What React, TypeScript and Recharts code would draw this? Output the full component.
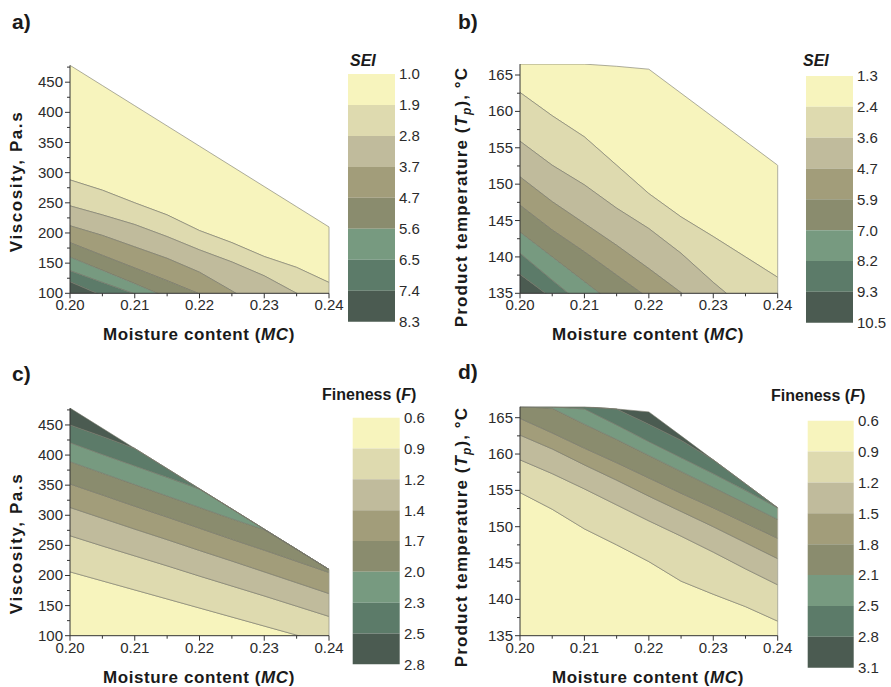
import React from 'react';
import { ComposedChart, Area, XAxis, YAxis, ReferenceLine, BarChart, Bar } from 'recharts';

// ---------- data ----------
const MC = [0.2, 0.205, 0.21, 0.215, 0.22, 0.225, 0.23, 0.235, 0.24];
const MC_TICKS = [0.2, 0.205, 0.21, 0.215, 0.22, 0.225, 0.23, 0.235, 0.24];
const VISC_TICKS = [100, 125, 150, 175, 200, 225, 250, 275, 300, 325, 350, 375, 400, 425, 450, 475];
const TEMP_TICKS = [135, 137.5, 140, 142.5, 145, 147.5, 150, 152.5, 155, 157.5, 160, 162.5, 165];

// upper boundary of the experimental region
const HULL_VISC = [478, 444.5, 411, 377.5, 344, 310.5, 277, 243.5, 210];
const HULL_TEMP = [166.5, 166.5, 166.5, 166.2, 165.8, 162.5, 159.2, 155.9, 152.6];
const FLOOR_VISC = [0, 0, 0, 0, 0, 0, 0, 0, 0];
const FLOOR_TEMP = [100, 100, 100, 100, 100, 100, 100, 100, 100];

// a) SEI contours (viscosity vs MC)
const A_SEI_19 = [288, 271, 250, 230, 204, 184, 161, 143, 118];
const A_SEI_28 = [245, 230, 214, 194, 172, 152, 129, 100, 72];
const A_SEI_37 = [212, 196, 177, 158, 135, 104, 72, 42, 12];
const A_SEI_47 = [184, 163, 142, 121, 99, 78, 57, 36, 10];
const A_SEI_56 = [160, 138, 116, 93, 70, 47, 24, 5, 0];
const A_SEI_65 = [137.5, 118, 99, 80, 61, 42, 23, 4, 0];
const A_SEI_74 = [119, 96, 73, 50, 27, 4, 0, 0, 0];

// b) SEI contours (product temperature vs MC)
const B_SEI_24 = [162.6, 159.4, 156.5, 152.6, 148.7, 145.5, 142.8, 140.0, 137.2];
const B_SEI_36 = [155.9, 152.6, 149.9, 146.7, 143.9, 140.5, 136.5, 132.8, 129];
const B_SEI_47 = [151.0, 147.6, 144.6, 141.6, 138.4, 135.1, 131.6, 128, 124.5];
const B_SEI_59 = [147.1, 143.7, 140.7, 137.5, 134.3, 131, 127.7, 124.4, 121];
const B_SEI_70 = [143.4, 140.0, 136.6, 133.2, 129.8, 126.4, 123, 119.6, 116];
const B_SEI_82 = [140.5, 136.8, 133.2, 129.5, 126, 122.5, 119, 115.5, 112];
const B_SEI_93 = [137.6, 134.3, 131, 127.6, 124.3, 121, 117.6, 114.3, 111];

// c) Fineness contours (viscosity vs MC)
const C_F_09 = [206, 191, 176, 161, 146, 131, 116, 101, 86];
const C_F_12 = [266, 249, 232.5, 216, 199, 182.5, 166, 149, 132];
const C_F_14 = [313, 295, 277, 259.5, 241.5, 224, 206, 188, 170];
const C_F_17 = [352, 333.6, 315, 297, 278.5, 260, 242, 223.5, 205];
const C_F_20 = [389, 370, 351, 332, 313, 294, 276, 257, 238];
const C_F_23 = [420.6, 401, 382, 363, 343.5, 324, 305, 286, 267];
const C_F_25 = [450, 431, 412, 393, 374, 355, 336, 317, 298];

// d) Fineness contours (product temperature vs MC)
const D_F_09 = [154.7, 152.4, 149.7, 147.5, 145.2, 142.5, 140.7, 139.0, 137.0];
const D_F_12 = [159.2, 157.3, 155.2, 153.0, 150.8, 148.7, 146.5, 144.2, 142.0];
const D_F_15 = [162.6, 160.7, 158.5, 156.4, 154.2, 152.1, 150.0, 147.8, 145.6];
const D_F_18 = [164.9, 162.9, 160.8, 158.8, 156.7, 154.6, 152.6, 150.5, 148.4];
const D_F_21 = [168.5, 166.3, 164.1, 162.0, 159.8, 157.6, 155.4, 153.2, 151.0];
const D_F_25 = [171, 168.5, 166.2, 164.0, 161.7, 159.5, 157.3, 155.0, 152.8];
const D_F_28 = [172.9, 170.7, 168.5, 166.3, 164.1, 161.9, 159.7, 157.5, 155.3];

// legend labels
const SEI_A_LABELS = ['1.0', '1.9', '2.8', '3.7', '4.7', '5.6', '6.5', '7.4', '8.3'];
const SEI_B_LABELS = ['1.3', '2.4', '3.6', '4.7', '5.9', '7.0', '8.2', '9.3', '10.5'];
const F_C_LABELS = ['0.6', '0.9', '1.2', '1.4', '1.7', '2.0', '2.3', '2.5', '2.8'];
const F_D_LABELS = ['0.6', '0.9', '1.2', '1.5', '1.8', '2.1', '2.5', '2.8', '3.1'];

const COLORS = ['#f7f4bd', '#dedaaf', '#c0bb9c', '#a29d7a', '#8a8c6e', '#779a80', '#5c7b69', '#4b5b51'];

const FONT = "'Liberation Sans', Arial, Helvetica, sans-serif";
const W = 891;
const H = 687;

// boundaries ordered by level (band k lies between bounds[k] and bounds[k+1])
function buildRows(bounds: number[][], hull: number[]) {
  return MC.map((x, i) => {
    const row: any = { x };
    for (let k = 0; k < 8; k++) {
      const a = Math.min(bounds[k][i], hull[i]);
      const b = Math.min(bounds[k + 1][i], hull[i]);
      row['b' + k] = [Math.min(a, b), Math.max(a, b)];
    }
    return row;
  });
}

const PANELS = [
  {
    key: 'a',
    rows: buildRows([HULL_VISC, A_SEI_19, A_SEI_28, A_SEI_37, A_SEI_47, A_SEI_56, A_SEI_65, A_SEI_74, FLOOR_VISC], HULL_VISC),
    hull: HULL_VISC, domain: [100, 478], ticks: VISC_TICKS, major: 50,
    box: { left: 70, right: 329, top: 65.3, bottom: 293.3 },
    legend: { left: 348, right: 395, top: 74, bottom: 321.7 }, labels: SEI_A_LABELS,
  },
  {
    key: 'b',
    rows: buildRows([HULL_TEMP, B_SEI_24, B_SEI_36, B_SEI_47, B_SEI_59, B_SEI_70, B_SEI_82, B_SEI_93, FLOOR_TEMP], HULL_TEMP),
    hull: HULL_TEMP, domain: [135, 166.5], ticks: TEMP_TICKS, major: 5,
    box: { left: 520, right: 777.7, top: 64.1, bottom: 293.3 },
    legend: { left: 806, right: 853, top: 76, bottom: 322.7 }, labels: SEI_B_LABELS,
  },
  {
    key: 'c',
    rows: buildRows([FLOOR_VISC, C_F_09, C_F_12, C_F_14, C_F_17, C_F_20, C_F_23, C_F_25, HULL_VISC], HULL_VISC),
    hull: HULL_VISC, domain: [100, 478], ticks: VISC_TICKS, major: 50,
    box: { left: 70, right: 329, top: 408.1, bottom: 635.7 },
    legend: { left: 352.7, right: 400, top: 417.7, bottom: 664.3 }, labels: F_C_LABELS,
  },
  {
    key: 'd',
    rows: buildRows([FLOOR_TEMP, D_F_09, D_F_12, D_F_15, D_F_18, D_F_21, D_F_25, D_F_28, HULL_TEMP], HULL_TEMP),
    hull: HULL_TEMP, domain: [135, 166.5], ticks: TEMP_TICKS, major: 5,
    box: { left: 520, right: 777.7, top: 406.8, bottom: 635.7 },
    legend: { left: 807.7, right: 854, top: 420.7, bottom: 667.7 }, labels: F_D_LABELS,
  },
];

const AXIS = '#333333';
const TICK_TEXT = '#2b2b2b';

const XTick = (props: any) => {
  const { x, y, payload } = props;
  const v = payload.value;
  const major = Math.abs(v * 100 - Math.round(v * 100)) < 1e-6;
  return (
    <g>
      <line x1={x} x2={x} y1={y} y2={y + (major ? 5 : 3)} stroke={AXIS} strokeWidth={1} />
      {major && (
        <text x={x} y={y + 17} textAnchor="middle" fontSize={15} fill={TICK_TEXT} fontFamily={FONT}>
          {v.toFixed(2)}
        </text>
      )}
    </g>
  );
};

const makeYTick = (major: number) => (props: any) => {
  const { x, y, payload } = props;
  const v = payload.value;
  const isMajor = Math.abs(v / major - Math.round(v / major)) < 1e-6;
  return (
    <g>
      <line x1={x - (isMajor ? 5 : 3)} x2={x} y1={y} y2={y} stroke={AXIS} strokeWidth={1} />
      {isMajor && (
        <text x={x - 7} y={y + 5} textAnchor="end" fontSize={15} fill={TICK_TEXT} fontFamily={FONT}>
          {String(v)}
        </text>
      )}
    </g>
  );
};

function ContourPanel({ p }: { p: any }) {
  const yW = 50;
  const xH = 30;
  const margin = {
    top: p.box.top,
    left: p.box.left - yW,
    right: W - p.box.right,
    bottom: H - p.box.bottom - xH,
  };
  const last = p.hull.length - 1;
  return (
    <div style={{ position: 'absolute', left: 0, top: 0 }}>
      <ComposedChart width={W} height={H} data={p.rows} margin={margin}>
        <XAxis
          type="number"
          dataKey="x"
          domain={[0.2, 0.24]}
          ticks={MC_TICKS}
          interval={0}
          tickSize={0}
          tickMargin={0}
          tickLine={false}
          tick={XTick}
          axisLine={{ stroke: AXIS, strokeWidth: 1 }}
          height={xH}
          allowDataOverflow
        />
        <YAxis
          type="number"
          domain={p.domain}
          ticks={p.ticks}
          interval={0}
          tickSize={0}
          tickMargin={0}
          tickLine={false}
          tick={makeYTick(p.major)}
          axisLine={{ stroke: AXIS, strokeWidth: 1 }}
          width={yW}
          allowDataOverflow
        />
        {COLORS.map((c, k) => (
          <Area
            key={k}
            dataKey={'b' + k}
            type="linear"
            fill={c}
            fillOpacity={1}
            stroke="#77776a"
            strokeWidth={0.6}
            dot={false}
            activeDot={false}
            isAnimationActive={false}
          />
        ))}
        <ReferenceLine
          segment={[
            { x: MC[last], y: p.domain[0] },
            { x: MC[last], y: p.hull[last] },
          ]}
          stroke="#9a9a88"
          strokeWidth={0.8}
        />
      </ComposedChart>
    </div>
  );
}

function ColorBar({ p }: { p: any }) {
  const yW = 30;
  const row: any = { n: 'bar' };
  COLORS.forEach((_, k) => {
    row['s' + k] = 1;
  });
  const margin = {
    top: p.legend.top,
    left: p.legend.left,
    right: W - p.legend.right - yW,
    bottom: H - p.legend.bottom,
  };
  return (
    <div style={{ position: 'absolute', left: 0, top: 0 }}>
      <BarChart width={W} height={H} data={[row]} margin={margin} barCategoryGap={0} barGap={0}>
        <XAxis dataKey="n" hide />
        <YAxis
          orientation="right"
          type="number"
          domain={[0, 8]}
          ticks={[0, 1, 2, 3, 4, 5, 6, 7, 8]}
          reversed
          interval={0}
          width={yW}
          tickSize={0}
          tickMargin={4}
          axisLine={false}
          tickLine={false}
          tick={{ fontSize: 15, fill: TICK_TEXT, fontFamily: FONT }}
          tickFormatter={(v: number) => p.labels[v]}
        />
        {COLORS.map((c, k) => (
          <Bar key={k} dataKey={'s' + k} stackId="s" fill={c} isAnimationActive={false} />
        ))}
      </BarChart>
    </div>
  );
}

function Overlay() {
  const title = { fontFamily: FONT, fontWeight: 'bold' as const, fill: '#1a1a1a' };
  return (
    <svg width={W} height={H} style={{ position: 'absolute', left: 0, top: 0, pointerEvents: 'none' }}>
      <text x={12} y={29} fontSize={21} {...title}>a)</text>
      <text x={458} y={29} fontSize={21} {...title}>b)</text>
      <text x={12} y={381} fontSize={21} {...title}>c)</text>
      <text x={458} y={379} fontSize={21} {...title}>d)</text>

      <text x={350} y={66} fontSize={16} fontStyle="italic" {...title}>SEI</text>
      <text x={803} y={66} fontSize={16} fontStyle="italic" {...title}>SEI</text>
      <text x={322} y={400} fontSize={16} {...title}>
        Fineness (<tspan fontStyle="italic">F</tspan>)
      </text>
      <text x={771} y={401} fontSize={16} {...title}>
        Fineness (<tspan fontStyle="italic">F</tspan>)
      </text>

      <text x={199} y={340} textAnchor="middle" fontSize={17} letterSpacing={0.6} {...title}>
        Moisture content (<tspan fontStyle="italic">MC</tspan>)
      </text>
      <text x={648} y={340} textAnchor="middle" fontSize={17} letterSpacing={0.6} {...title}>
        Moisture content (<tspan fontStyle="italic">MC</tspan>)
      </text>
      <text x={199} y={683} textAnchor="middle" fontSize={17} letterSpacing={0.6} {...title}>
        Moisture content (<tspan fontStyle="italic">MC</tspan>)
      </text>
      <text x={648} y={683} textAnchor="middle" fontSize={17} letterSpacing={0.6} {...title}>
        Moisture content (<tspan fontStyle="italic">MC</tspan>)
      </text>

      <text transform="translate(22,181.5) rotate(-90)" textAnchor="middle" fontSize={17} letterSpacing={1.6} {...title}>
        Viscosity, Pa.s
      </text>
      <text transform="translate(22,543.5) rotate(-90)" textAnchor="middle" fontSize={17} letterSpacing={1.6} {...title}>
        Viscosity, Pa.s
      </text>
      <text transform="translate(467,197) rotate(-90)" textAnchor="middle" fontSize={17} letterSpacing={1.1} {...title}>
        Product temperature (<tspan fontStyle="italic">T</tspan>
        <tspan fontStyle="italic" fontSize={12} dy={4}>p</tspan>
        <tspan dy={-4}>), °C</tspan>
      </text>
      <text transform="translate(467,537) rotate(-90)" textAnchor="middle" fontSize={17} letterSpacing={1.1} {...title}>
        Product temperature (<tspan fontStyle="italic">T</tspan>
        <tspan fontStyle="italic" fontSize={12} dy={4}>p</tspan>
        <tspan dy={-4}>), °C</tspan>
      </text>
    </svg>
  );
}

export default function App() {
  return (
    <div style={{ position: 'absolute', left: 0, top: 0, width: W, height: H, background: '#ffffff', fontFamily: FONT }}>
      {PANELS.map((p) => (
        <ContourPanel key={p.key} p={p} />
      ))}
      {PANELS.map((p) => (
        <ColorBar key={'l' + p.key} p={p} />
      ))}
      <Overlay />
    </div>
  );
}
